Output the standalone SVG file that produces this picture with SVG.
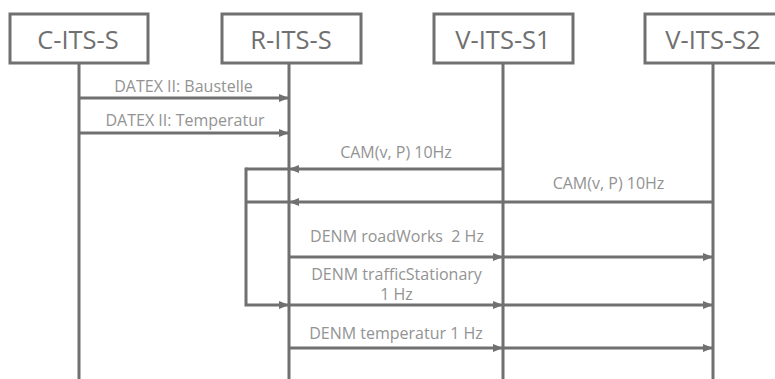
<svg xmlns="http://www.w3.org/2000/svg" width="775" height="379" viewBox="0 0 775 379">
  <style>
    .box { fill: #ffffff; stroke: #707070; stroke-width: 3; }
    .title { font-family: "Open Sans", "Noto Sans", sans-serif; font-size: 25.5px; fill: #707070; text-anchor: middle; }
    .life { stroke: #707070; stroke-width: 3; fill: none; }
    .msg { stroke: #707070; stroke-width: 3; fill: none; }
    .label { font-family: "Open Sans", "Noto Sans", sans-serif; font-size: 16px; fill: #939393; text-anchor: middle; }
  </style>
  <defs>
    <marker id="head" viewBox="0 0 10 8" refX="10" refY="4" markerWidth="10" markerHeight="8" markerUnits="userSpaceOnUse" orient="auto">
      <path d="M0,0 L10,4 L0,8 Z" fill="#707070"/>
    </marker>
  </defs>

  <!-- lifelines -->
  <g id="lifelines">
    <line class="life" x1="79" y1="63" x2="79" y2="379"/>
    <line class="life" x1="289" y1="63" x2="289" y2="379"/>
    <line class="life" x1="503" y1="63" x2="503" y2="379"/>
    <line class="life" x1="713" y1="63" x2="713" y2="379"/>
  </g>

  <!-- participants -->
  <g id="c-its-s">
    <rect class="box" x="10" y="14" width="138" height="49"/>
    <text class="title" x="78" y="48.5">C-ITS-S</text>
  </g>
  <g id="r-its-s">
    <rect class="box" x="222" y="14" width="139" height="49"/>
    <text class="title" x="291" y="48.5">R-ITS-S</text>
  </g>
  <g id="v-its-s1">
    <rect class="box" x="434" y="14" width="139" height="49"/>
    <text class="title" x="503" y="48.5">V-ITS-S1</text>
  </g>
  <g id="v-its-s2">
    <rect class="box" x="645" y="14" width="140" height="49"/>
    <text class="title" x="713" y="48.5">V-ITS-S2</text>
  </g>

  <!-- messages -->
  <g id="connectors">
    <line class="msg" x1="79" y1="98" x2="289" y2="98" marker-end="url(#head)"/>
    <line class="msg" x1="79" y1="133" x2="289" y2="133" marker-end="url(#head)"/>
    <line class="msg" x1="503" y1="169" x2="289" y2="169" marker-end="url(#head)"/>
    <line class="msg" x1="289" y1="169" x2="246" y2="169"/>
    <line class="msg" x1="713" y1="202" x2="289" y2="202" marker-end="url(#head)"/>
    <line class="msg" x1="289" y1="202" x2="246" y2="202"/>
    <polyline class="msg" points="246,167.5 246,305 289,305" marker-end="url(#head)"/>
    <line class="msg" x1="289" y1="257" x2="503" y2="257" marker-end="url(#head)"/>
    <line class="msg" x1="503" y1="257" x2="713" y2="257" marker-end="url(#head)"/>
    <line class="msg" x1="289" y1="305" x2="503" y2="305" marker-end="url(#head)"/>
    <line class="msg" x1="503" y1="305" x2="713" y2="305" marker-end="url(#head)"/>
    <line class="msg" x1="289" y1="348" x2="503" y2="348" marker-end="url(#head)"/>
    <line class="msg" x1="503" y1="348" x2="713" y2="348" marker-end="url(#head)"/>
  </g>

  <!-- message labels -->
  <g id="labels">
    <text class="label" x="183.5" y="92">DATEX II: Baustelle</text>
    <text class="label" x="185" y="126">DATEX II: Temperatur</text>
    <text class="label" x="396" y="158">CAM(v, P) 10Hz</text>
    <text class="label" x="608.5" y="188.5">CAM(v, P) 10Hz</text>
    <text class="label" x="397" y="242" xml:space="preserve">DENM roadWorks  2 Hz</text>
    <text class="label" x="396.5" y="280">DENM trafficStationary</text>
    <text class="label" x="396.5" y="300">1 Hz</text>
    <text class="label" x="396" y="339">DENM temperatur 1 Hz</text>
  </g>
</svg>
